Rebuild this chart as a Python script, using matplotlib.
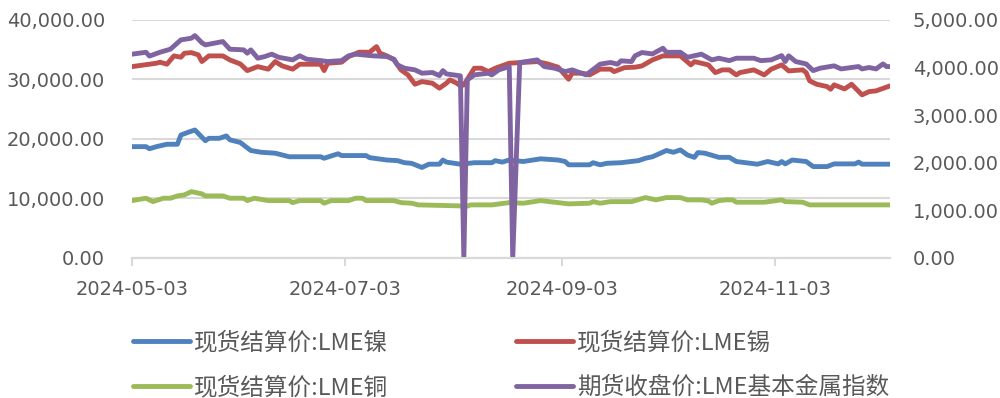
import matplotlib
matplotlib.use("Agg")
import matplotlib.pyplot as plt
import matplotlib.dates as mdates
import pandas as pd
from matplotlib.ticker import FuncFormatter

YEAR = "2024-"

nickel_dates = ["05-03","05-07","05-08","05-10","05-13","05-16","05-17","05-19","05-21","05-24","05-25","05-28","05-30","05-31",
                "06-03","06-06","06-09","06-13","06-17","06-26","06-27","07-01","07-02","07-09","07-10","07-15","07-18","07-20",
                "07-22","07-25","07-27","07-30","07-31","08-01","08-05","08-09","08-14","08-15","08-17","08-19","08-23","08-28",
                "09-02","09-04","09-05","09-11","09-12","09-14","09-16","09-20","09-25","09-27","09-29","10-03","10-05","10-07",
                "10-09","10-11","10-12","10-14","10-18","10-21","10-23","10-29","11-01","11-04","11-05","11-06","11-08","11-12",
                "11-14","11-18","11-20","11-26","11-27","11-28","12-06"]
nickel_vals = [18700,18700,18350,18700,19100,19100,20650,21100,21500,19700,20100,20100,20500,19850,
               19400,18050,17750,17600,17000,17000,16750,17500,17200,17200,16850,16450,16350,16000,
               15900,15200,15750,15750,16450,16100,15750,16000,16000,16350,16100,16450,16200,16650,
               16450,16200,15650,15650,16000,15650,15900,16000,16350,16750,17000,18050,17750,18150,
               17300,16900,17700,17600,16900,16900,16200,15750,16200,15800,16200,15800,16450,16200,
               15350,15350,15800,15800,16100,15750,15750]

tin_dates = ["05-03","05-10","05-11","05-13","05-15","05-17","05-18","05-20","05-22","05-23","05-25","05-29","05-31",
             "06-03","06-05","06-08","06-11","06-13","06-15","06-18","06-20","06-26","06-27","06-28","07-02","07-04",
             "07-07","07-10","07-12","07-13","07-15","07-17","07-19","07-21","07-23","07-25","07-28","07-30","08-01",
             "08-02","08-04","08-05","08-06","08-09","08-11","08-13","08-15","08-19","08-22","08-27","08-30","09-02",
             "09-05","09-06","09-09","09-11","09-14","09-17","09-18","09-21","09-24","09-26","09-29","10-02","10-07",
             "10-10","10-11","10-13","10-15","10-17","10-19","10-21","10-23","10-24","10-28","10-31","11-02","11-05",
             "11-07","11-11","11-12","11-13","11-15","11-18","11-19","11-20","11-23","11-25","11-28","11-30","12-02","12-06"]
tin_vals = [32150,32720,32890,32555,33950,33730,34400,34500,34120,33000,33950,33950,33280,
            32600,31480,32150,31720,33000,32270,31720,32550,32550,31480,32720,32890,33830,
            34570,34570,35510,34400,33950,33280,31600,30760,29190,29630,29360,28520,29360,
            29920,29360,28910,29080,31880,31880,31310,31880,32720,32820,32990,32600,32050,
            30030,31040,31040,30760,31720,31720,31310,31980,32050,32270,33280,33950,33950,
            32440,32990,32720,32440,31140,31600,31600,30760,31140,31600,30760,31720,32440,
            31430,31600,31140,29750,29190,28790,28350,29080,28400,29190,27400,27950,28070,28910]

copper_dates = ["05-03","05-07","05-09","05-12","05-14","05-16","05-18","05-20","05-23","05-24","05-29","05-31",
                "06-04","06-05","06-07","06-11","06-17","06-18","06-20","06-26","06-27","06-29","07-04","07-06",
                "07-08","07-09","07-17","07-19","07-22","07-24","08-05","08-06","08-08","08-14","08-19","08-23",
                "08-28","09-02","09-05","09-11","09-12","09-14","09-17","09-23","09-27","09-30","10-03","10-07",
                "10-09","10-13","10-15","10-16","10-18","10-20","10-22","10-23","10-31","11-05","11-06","11-11",
                "11-13","12-06"]
copper_vals = [9630,10030,9460,10030,10030,10420,10590,11140,10760,10420,10420,10030,
               10030,9630,10030,9630,9630,9290,9630,9630,9190,9630,9630,10030,
               10030,9630,9630,9290,9190,8910,8740,8520,8910,8910,9290,9190,
               9630,9290,9080,9190,9460,9190,9460,9460,10140,9750,10140,10140,
               9750,9750,9580,9190,9630,9750,9750,9360,9360,9750,9460,9360,
               8910,8910]

index_dates = ["05-03","05-07","05-08","05-11","05-14","05-17","05-20","05-21","05-23","05-24","05-29","05-31",
               "06-04","06-05","06-06","06-08","06-10","06-12","06-14","06-18","06-20","06-22","06-26","06-28",
               "07-02","07-04","07-06","07-11","07-15","07-17","07-18","07-20","07-23","07-25","07-28","07-30",
               "07-31","08-01","08-05","08-06","08-07","08-09","08-13","08-14","08-16","08-19","08-20","08-22",
               "08-27","08-29","09-01","09-04","09-06","09-10","09-14","09-17","09-19","09-20","09-23","09-24",
               "09-26","09-29","10-02","10-03","10-07","10-09","10-13","10-16","10-18","10-21","10-23","10-28",
               "10-30","11-02","11-05","11-06","11-07","11-09","11-12","11-14","11-16","11-20","11-22","11-27",
               "11-28","11-30","12-02","12-04","12-05","12-06"]
index_vals = [4280,4320,4240,4320,4385,4580,4615,4670,4520,4475,4545,4385,
              4370,4300,4370,4195,4230,4280,4215,4160,4245,4175,4145,4125,
              4145,4245,4280,4245,4230,4175,4055,3985,3950,3880,3895,3830,
              3935,3865,3825,0,3740,3845,3880,3845,3950,4020,0,4105,
              4160,4020,3985,3915,3950,3845,4070,4105,4070,4140,4125,4245,
              4315,4285,4405,4320,4320,4215,4280,4160,4195,4145,4195,4195,
              4145,4160,4250,4125,4245,4125,4075,3935,3985,4035,3970,4020,
              3970,4000,3970,4075,4020,4020]

labels = ["现货结算价:LME镍", "现货结算价:LME锡", "现货结算价:LME铜", "期货收盘价:LME基本金属指数"]
colors = ["#4f81bd", "#c0504d", "#9bbb59", "#8064a2"]

x_start, x_end = "2024-05-03", "2024-12-06"
tick_dates = ["2024-05-03", "2024-07-03", "2024-09-03", "2024-11-03"]

def to_dt(lst):
    return pd.to_datetime([YEAR + d for d in lst])

TXT = "#595959"
GRID = "#d9d9d9"

fig = plt.figure(figsize=(10, 3.98), dpi=100)
ax = fig.add_axes([0.132, 0.352, 0.758, 0.598])
ax2 = ax.twinx()

lw = 3.5
kw = dict(lw=lw, solid_joinstyle="round", solid_capstyle="round")
h1, = ax.plot(to_dt(nickel_dates), nickel_vals, color=colors[0], **kw)
h2, = ax.plot(to_dt(tin_dates), tin_vals, color=colors[1], **kw)
h3, = ax.plot(to_dt(copper_dates), copper_vals, color=colors[2], **kw)
h4, = ax2.plot(to_dt(index_dates), index_vals, color=colors[3], **kw)

ax.set_xlim(pd.Timestamp(x_start), pd.Timestamp(x_end))
ax.set_ylim(0, 40000)
ax2.set_ylim(0, 5000)
ax.set_yticks(range(0, 40001, 10000))
ax2.set_yticks(range(0, 5001, 1000))
fmt = FuncFormatter(lambda v, p: f"{v:,.2f}")
ax.yaxis.set_major_formatter(fmt)
ax2.yaxis.set_major_formatter(fmt)
ax.set_xticks(pd.to_datetime(tick_dates))
ax.xaxis.set_major_formatter(mdates.DateFormatter("%Y-%m-%d"))

ax.grid(axis="y", color=GRID, lw=1.5)
ax.set_axisbelow(True)
for a in (ax, ax2):
    for s in ("top", "right", "left"):
        a.spines[s].set_visible(False)
    a.spines["bottom"].set_color(GRID)
    a.spines["bottom"].set_linewidth(1.5)
ax.tick_params(axis="y", length=0, pad=19.5, labelsize=14, labelcolor=TXT)
ax2.tick_params(axis="y", length=0, pad=16.5, labelsize=14, labelcolor=TXT)
ax.tick_params(axis="x", length=6, width=1.5, color=GRID, pad=10, labelsize=14, labelcolor=TXT)

# column-first fill: column 1 = 镍, 铜 ; column 2 = 锡, 指数
order = [0, 2, 1, 3]
handles = [h1, h2, h3, h4]
leg = fig.legend(handles=[handles[i] for i in order], labels=[labels[i] for i in order],
                 ncol=2, loc="upper left",
                 bbox_to_anchor=(0.133, 0.168), frameon=False, borderpad=0, borderaxespad=0,
                 handlelength=2.4, handletextpad=0.2, columnspacing=5.4, labelspacing=0.92,
                 prop={"family": ["Noto Sans CJK SC", "DejaVu Sans"], "size": 17})
for t in leg.get_texts():
    t.set_color(TXT)

fig.savefig("out.png", dpi=100)
